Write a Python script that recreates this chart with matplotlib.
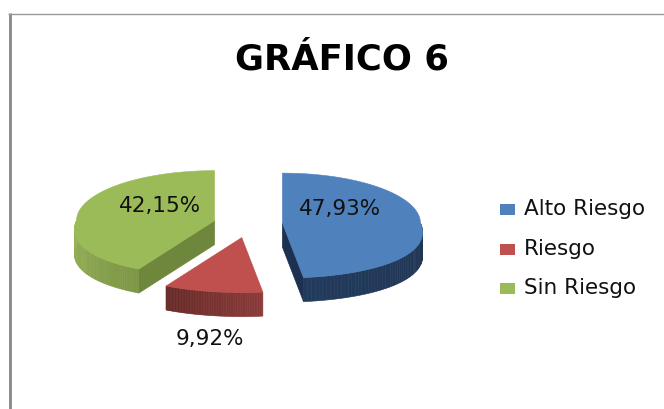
"""
Grafico 6, exploded 3D style pie
"""

import numpy as np
import matplotlib
matplotlib.use('Agg')
import matplotlib.pyplot as plt
from matplotlib.colors import to_rgb

categories = ['Alto Riesgo', 'Riesgo', 'Sin Riesgo']
values = [47.93, 9.92, 42.15]
value_labels = ['47,93%', '9,92%', '42,15%']

top_colors = ['#4f81bd', '#c0504d', '#9bbb59']
wall_start = ['#1f3552', '#8a3a38', '#9ab55a']
wall_end = ['#223a5c', '#662926', '#7c9645']
cut_colors = ['#1c3150', '#662926', '#6e873c']

CX, CY = 248, 224
RX, RX_FRONT_EXTRA, RY_BACK, RY_FRONT = 138, 25, 50, 55
EXPLODE = 34.5
SQUASH = 0.4
DEPTH = 24

fig = plt.figure(figsize=(6.64, 4.09), dpi=100)
ax = fig.add_axes([0, 0, 1, 1])
ax.set_xlim(0, 664)
ax.set_ylim(409, 0)
ax.axis('off')


def arc_points(cx, cy, a0, a1, num=80):
    """points on the top ellipse, angles clockwise from 12 o'clock"""
    angles = np.radians(np.linspace(a0, a1, num))
    cos_a = np.cos(angles)
    ry = np.where(cos_a > 0, RY_BACK, RY_FRONT)
    # front of the pie looks wider, it is nearer
    rx = RX + RX_FRONT_EXTRA * np.maximum(0, -cos_a)
    return cx + rx * np.sin(angles), cy - ry * cos_a


def mix(c0, c1, frac):
    return tuple((1 - frac) * a + frac * b for a, b in zip(to_rgb(c0), to_rgb(c1)))


# frame of the chart area
ax.plot([9.5, 9.5], [409, 13], color='#8c8c8c', lw=2.1, solid_capstyle='butt')
ax.plot([8, 664], [13.5, 13.5], color='#999999', lw=1, solid_capstyle='butt')

# slice geometry
edges = np.concatenate([[0], np.cumsum(values)]) / np.sum(values) * 360
slices = []
for i in range(len(values)):
    mid = np.radians((edges[i] + edges[i + 1]) / 2)
    slices.append((i, CX + EXPLODE * np.sin(mid), CY - EXPLODE * SQUASH * np.cos(mid)))

# back to front
for i, cx, cy in [slices[2], slices[0], slices[1]]:
    a0, a1 = edges[i], edges[i + 1]
    xs, ys = arc_points(cx, cy, a0, a1)

    # cut faces
    if i == 0:
        ax.fill([cx, xs[-1], xs[-1], cx], [cy, ys[-1], ys[-1] + DEPTH, cy + DEPTH],
                color=cut_colors[i], lw=0.5)
    if i == 2:
        ax.fill([cx, xs[0], xs[0], cx], [cy, ys[0], ys[0] + DEPTH, cy + DEPTH],
                color=cut_colors[i], lw=0.5)

    # outer wall, only the part facing the viewer
    w0, w1 = max(a0, 90), min(a1, 270)
    wx, wy = arc_points(cx, cy, w0, w1, 60)
    for j in range(len(wx) - 1):
        frac = j / (len(wx) - 2)
        if i == 2:
            frac = 1 - frac
        ax.fill([wx[j], wx[j + 1], wx[j + 1], wx[j]],
                [wy[j], wy[j + 1], wy[j + 1] + DEPTH, wy[j] + DEPTH],
                color=mix(wall_start[i], wall_end[i], frac), lw=0.4)

    # top face
    ax.fill(np.concatenate([[cx], xs]), np.concatenate([[cy], ys]),
            color=top_colors[i], lw=0.4)

# labels
label_pos = [(340, 209), (210, 339), (160, 206)]
for text, (lx, ly) in zip(value_labels, label_pos):
    ax.text(lx, ly, text, ha='center', va='center', fontsize=15.5,
            family='DejaVu Sans', color='#111111')

ax.text(342, 69, 'GRÁFICO 6', ha='center', va='baseline', fontsize=25.5,
        family='DejaVu Sans', weight='bold', color='black')

# legend
legend_y = [209, 249, 288]
for name, col, ly in zip(categories, top_colors, legend_y):
    ax.fill([500, 515, 515, 500], [ly - 5.5, ly - 5.5, ly + 5.5, ly + 5.5], color=col, lw=0)
    ax.text(524, ly, name, ha='left', va='center', fontsize=15.5,
            family='DejaVu Sans', color='#111111')

fig.savefig('out.png', dpi=100)
